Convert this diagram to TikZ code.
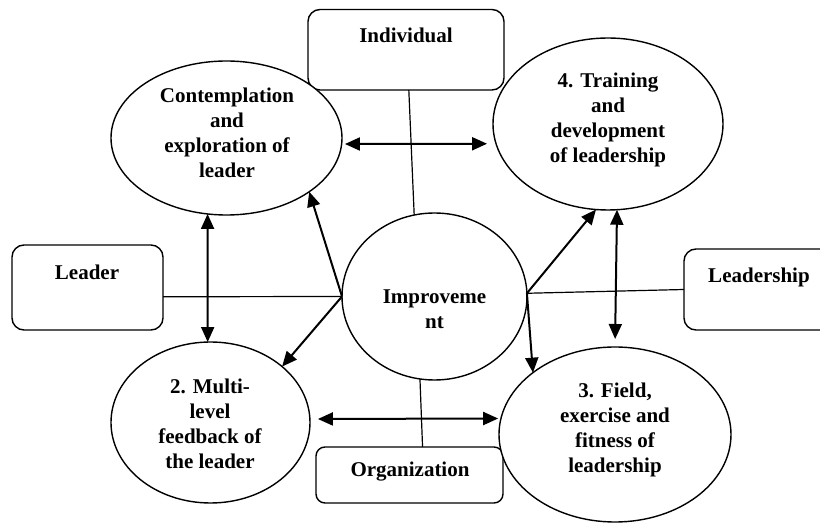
\documentclass[tikz,border=0pt]{standalone}
\usepackage{fontspec}
\setmainfont{Liberation Serif}
\usetikzlibrary{arrows.meta,shapes.geometric}
\begin{document}
\begin{tikzpicture}[x=0.5pt,y=-0.5pt,
  txt/.style={font=\fontsize{10.5pt}{12.5pt}\selectfont\bfseries, align=center, inner sep=0pt},
  oval/.style={ellipse, draw, fill=white, line width=0.7pt, inner sep=0pt, outer sep=0pt},
  rbox/.style={rectangle, draw, rounded corners=6pt, line width=0.7pt, inner sep=0pt, outer sep=0pt},
  link/.style={line width=0.6pt},
  arr/.style={line width=1pt, -{Triangle[length=7.5pt,width=6.5pt]}},
  darr/.style={line width=1pt, {Triangle[length=7.5pt,width=6.5pt]}-{Triangle[length=7.5pt,width=6.5pt]}},
]
\path[use as bounding box, clip] (0,0) rectangle (820,523);

% boxes
\node[rbox, minimum width=98pt, minimum height=40.25pt] (ind) at (406,49.75) {};
\node[rbox, minimum width=75.5pt, minimum height=42.5pt] (lead) at (87.5,287.5) {};
\node[rbox, minimum width=75pt, minimum height=40.5pt] (lship) at (759,289.5) {};
\node[rbox, rounded corners=4.5pt, minimum width=93.5pt, minimum height=28pt] (org) at (409.5,475) {};

% centre
\node[oval, minimum width=92.5pt, minimum height=83.5pt] (imp) at (434.5,296.5) {};

% plain links
\draw[link] (ind.-86) -- (imp.104.4);
\draw[link] (lead.-7.9) -- (imp.west);
\draw[link] (imp.2) -- (lship.west);
\draw[link] (imp.-100.5) -- (org.65.9);

% ellipses
\node[oval, minimum width=115.5pt, minimum height=77pt] (tl) at (226.5,138) {};
\node[oval, minimum width=115pt, minimum height=86pt] (tr) at (608,124) {};
\node[oval, minimum width=99.5pt, minimum height=80.5pt] (bl) at (210.5,422.5) {};
\node[oval, minimum width=116pt, minimum height=87.5pt] (br) at (615,434.5) {};

% texts
\node[txt] (indt) at (406,35) {Individual};
\node[txt] (leadt) at (87,272) {Leader};
\node[txt] (lshipt) at (759,277) {Leadership};
\node[txt] (orgt) at (410,472) {Organization};
\node[txt] (impt) at (434.5,309.5) {Improveme\\nt};
\node[txt] (tlt) at (227,133) {Contemplation\\and\\exploration of\\leader};
\node[txt] (trt) at (608,120) {4. Training\\and\\development\\of leadership};
\node[txt] (blt) at (210,423.5) {2. Multi-\\level\\feedback of\\the leader};
\node[txt] (brt) at (615,430) {3. Field,\\exercise and\\fitness of\\leadership};

% arrows from centre
\draw[arr] (imp.west) -- (tl.-33.5);
\draw[arr] (imp.west) -- (bl.38.8);
\draw[arr] (imp.2) -- (tr.-98.9);
\draw[arr] (imp.2) -- (br.143.1);

% double arrows
\draw[darr] (tl.-104.2) -- (bl.92.5);
\draw[darr, shorten >=4pt] (tr.-84.1) -- (br.90.6);
\draw[darr, shorten <=1.65pt, shorten >=4.5pt] (tl.-3.5) -- (tr.190.7);
\draw[darr, shorten <=4pt, shorten >=1.4pt] (bl.2.4) -- (br.172.5);
\end{tikzpicture}
\end{document}
